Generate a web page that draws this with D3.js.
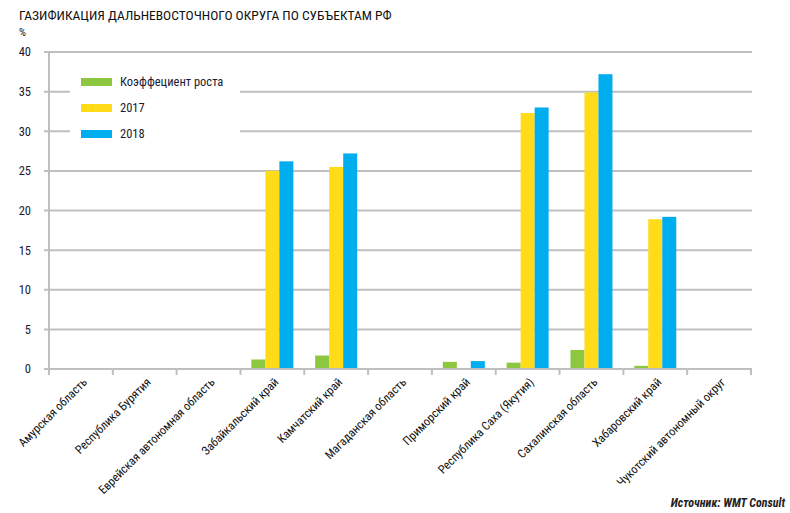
<!DOCTYPE html>
<html><head><meta charset="utf-8">
<script src="https://cdn.jsdelivr.net/npm/d3@7"></script>
<style>
body{margin:0;background:#fff;}
svg{display:block;font-family:"Liberation Sans Narrow","Roboto Condensed","Arial Narrow","Liberation Sans",sans-serif;}
</style></head>
<body><svg id="c" width="790" height="513"></svg>
<script>
const categories = ["Амурская область","Республика Бурятия","Еврейская автономная область","Забайкальский край","Камчатский край","Магаданская область","Приморский край","Республика Саха (Якутия)","Сахалинская область","Хабаровский край","Чукотский автономный округ"];
const seriesNames = ["Коэффециент роста","2017","2018"];
const growth = [0,0,0,1.2,1.7,0,0.9,0.8,2.4,0.4,0];
const v2017 = [0,0,0,25.0,25.5,0,0,32.3,34.9,18.9,0];
const v2018 = [0,0,0,26.2,27.2,0,1.0,33.0,37.2,19.2,0];
const yTicks = [0,5,10,15,20,25,30,35,40];
const colors = ["#8dc63f","#ffdc17","#00adee"];
const seriesValues = [growth, v2017, v2018];

const svg = d3.select("#c");
const x0 = d3.scaleBand().domain(categories).range([49,751]).padding(0);
const x1 = d3.scaleBand().domain(seriesNames).range([0,x0.bandwidth()]).paddingInner(0).paddingOuter(0.78);
const y = d3.scaleLinear().domain([0,40]).range([369,52]);

// title
svg.append("text").attr("x",19).attr("y",20).attr("font-size",13.5).attr("fill","#111").text("ГАЗИФИКАЦИЯ ДАЛЬНЕВОСТОЧНОГО ОКРУГА ПО СУБЪЕКТАМ РФ");
svg.append("text").attr("x",19).attr("y",36).attr("font-size",11).attr("fill","#111").text("%");

// gridlines
svg.append("g").selectAll("line").data(yTicks).join("line")
  .attr("x1",44).attr("x2",752).attr("y1",d=>y(d)).attr("y2",d=>y(d))
  .attr("stroke","#bfbfbf").attr("stroke-width",2);
// y axis vertical
svg.append("line").attr("x1",49).attr("x2",49).attr("y1",y(40)).attr("y2",374).attr("stroke","#bfbfbf").attr("stroke-width",2);
// y tick labels
svg.append("g").selectAll("text").data(yTicks).join("text")
  .attr("x",31).attr("y",d=>y(d)).attr("dy","0.35em").attr("text-anchor","end")
  .attr("font-size",12.5).attr("fill","#1a1a33").text(d=>d);
// x ticks at boundaries
const bounds = categories.map(c=>x0(c)).concat([x0(categories[categories.length-1])+x0.bandwidth()]);
svg.append("g").selectAll("line").data(bounds).join("line")
  .attr("x1",d=>d).attr("x2",d=>d).attr("y1",369).attr("y2",375)
  .attr("stroke","#bfbfbf").attr("stroke-width",2);

// legend background
svg.append("rect").attr("x",70).attr("y",66).attr("width",170).attr("height",82).attr("fill","#fff");

// bars
seriesNames.forEach((s,si)=>{
  svg.append("g").selectAll("rect").data(categories.map((c,i)=>({c,v:seriesValues[si][i]})).filter(d=>d.v>0)).join("rect")
    .attr("x",d=>x0(d.c)+x1(s)).attr("width",x1.bandwidth())
    .attr("y",d=>y(d.v)).attr("height",d=>y(0)-y(d.v))
    .attr("fill",colors[si]);
});
// redraw axis baseline
svg.append("line").attr("x1",44).attr("x2",752).attr("y1",369).attr("y2",369).attr("stroke","#bfbfbf").attr("stroke-width",2);

// legend
const lg = svg.append("g");
seriesNames.forEach((s,i)=>{
  const cy = 82 + i*26;
  lg.append("rect").attr("x",81).attr("y",cy-4).attr("width",31).attr("height",8).attr("fill",colors[i]);
  lg.append("text").attr("x",120).attr("y",cy).attr("dy","0.35em").attr("font-size",12.5).attr("fill","#1a1a33").text(s);
});

// x labels
svg.append("g").selectAll("text").data(categories).join("text")
  .attr("transform",d=>`translate(${x0(d)+x0.bandwidth()/2+4},380) rotate(-45)`)
  .attr("text-anchor","end").attr("dy","0.35em").attr("font-size",12).attr("fill","#111").text(d=>d);

// source
svg.append("text").attr("x",785).attr("y",507).attr("text-anchor","end").attr("font-size",12).attr("font-style","italic").attr("font-weight","bold").attr("fill","#222").text("Источник: WMT Consult");
</script></body></html>
